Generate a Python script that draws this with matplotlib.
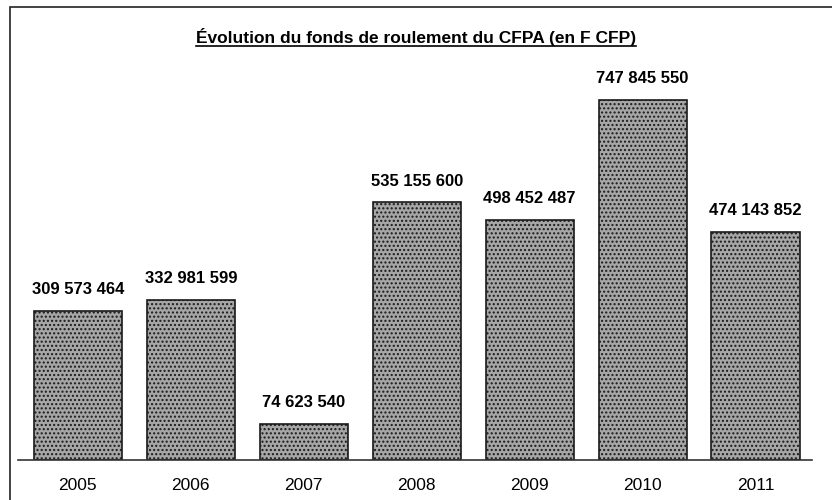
import matplotlib.pyplot as plt
from matplotlib.patches import Rectangle
from matplotlib.lines import Line2D

years = ["2005", "2006", "2007", "2008", "2009", "2010", "2011"]
values = [309573464, 332981599, 74623540, 535155600, 498452487, 747845550, 474143852]

plt.rcParams["font.family"] = ["Liberation Sans Narrow", "Liberation Sans", "DejaVu Sans"]
plt.rcParams["hatch.color"] = "#6e6e6e"


def fmt(v):
    return f"{v:,}".replace(",", " ")


fig = plt.figure(figsize=(8.32, 5.0), dpi=100)
ax = fig.add_axes([18 / 832, 40 / 500, 794 / 832, 400 / 500])

x = range(len(years))
ax.bar(x, values, width=0.78, color="#a6a6a6", edgecolor="#1a1a1a",
       linewidth=1.2, hatch="....", zorder=2)

for xi, v in zip(x, values):
    ax.annotate(fmt(v), (xi, v), xytext=(0, 10), textcoords="offset points",
                ha="center", va="bottom", fontsize=12, fontweight="bold")

ax.set_xlim(-0.53, 6.5)
ax.set_ylim(0, 831e6)
ax.set_xticks(list(x))
ax.set_xticklabels(years, fontsize=12.5)
ax.tick_params(axis="x", length=0, pad=13)
ax.set_yticks([])
for s in ("top", "right", "left"):
    ax.spines[s].set_visible(False)
ax.spines["bottom"].set_color("#333333")
ax.spines["bottom"].set_linewidth(1.2)

title = fig.text(0.5, 0.915, "Évolution du fonds de roulement du CFPA (en F CFP)",
                 ha="center", va="baseline", fontsize=12.5, fontweight="bold")

# underline the title
fig.canvas.draw()
bb = title.get_window_extent().transformed(fig.transFigure.inverted())
fig.add_artist(Line2D([bb.x0, bb.x1], [0.908, 0.908], color="black", lw=1.2,
                      transform=fig.transFigure))

# frame around the chart (bottom and right run past the scan)
fig.add_artist(Rectangle((10 / 832, -10 / 500), 830 / 832, 503 / 500,
                         transform=fig.transFigure, fill=False,
                         edgecolor="#222222", linewidth=1.2))

fig.savefig("out.png", dpi=100)
